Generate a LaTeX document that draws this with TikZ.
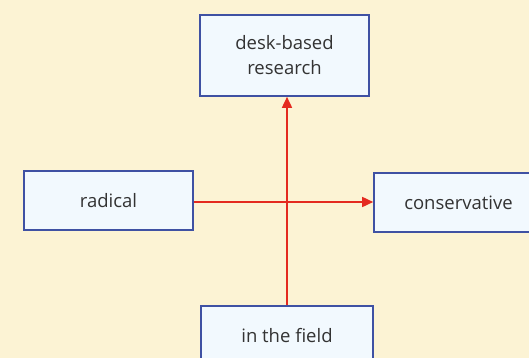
\documentclass[tikz,border=0pt]{standalone}
\usepackage{fontspec}
\setmainfont{Open Sans}
\usetikzlibrary{arrows.meta}
\definecolor{paper}{HTML}{FCF3D4}
\definecolor{boxfill}{HTML}{F2F9FE}
\definecolor{boxline}{HTML}{3F51A3}
\definecolor{axisred}{HTML}{E42A1F}
\tikzset{
  axisbox/.style={draw=boxline, fill=boxfill, line width=1.6pt,
    minimum width=169pt, inner sep=0pt, align=center,
    font=\fontsize{18.5}{25}\selectfont, text=black!80},
  axisarrow/.style={draw=axisred, line width=1.6pt,
    -{Triangle[length=11pt,width=10pt]}}
}
\begin{document}
\begin{tikzpicture}[x=1pt,y=-1pt]
  \fill[paper] (0,0) rectangle (529,358);
  \useasboundingbox (0,0) rectangle (529,358);
  \begin{scope}
    \clip (0,0) rectangle (529,358);
    \node[axisbox, minimum height=81pt] (desk) at (284.5,55.5) {desk-based\\research};
    \node[axisbox, minimum height=59pt] (radical) at (108.5,200.5) {radical};
    \node[axisbox, minimum height=59pt] (cons) at (458.5,202.5) {conservative};
    \node[axisbox, minimum height=59pt, minimum width=172pt] (field) at (287,335.5) {in the field};
    \draw[axisarrow] (field.north -| 287,0) -- (desk.south -| 287,0);
    \draw[axisarrow] (radical.east |- 0,202) -- (cons.west |- 0,202);
  \end{scope}
\end{tikzpicture}
\end{document}
